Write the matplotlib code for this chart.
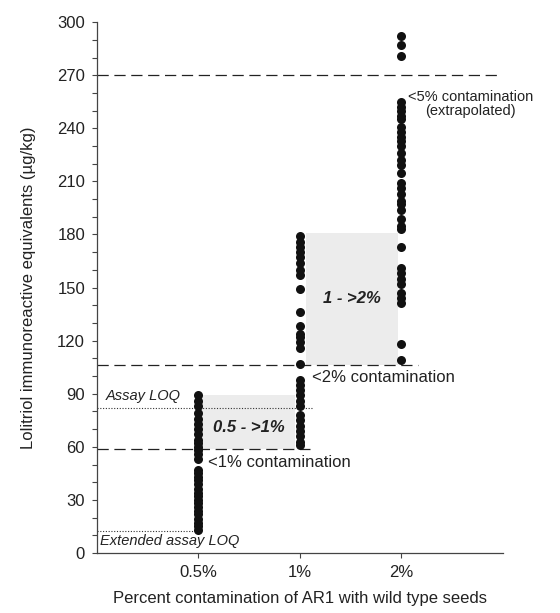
import matplotlib
matplotlib.use("Agg")
import matplotlib.pyplot as plt

plt.rcParams['font.family'] = ['Liberation Sans', 'DejaVu Sans']

categories = ["0.5%", "1%", "2%"]
vals_05 = [89, 86, 83, 79, 76, 73, 70, 67, 64, 62, 60, 58, 56, 53,
           47, 45, 43, 41, 39, 36, 34, 32, 30, 28, 26, 24, 22, 19, 17, 15, 13]
vals_1 = [179, 176, 173, 170, 167, 164, 160, 157, 149, 136, 128, 124, 122, 119, 116, 107,
          98, 95, 92, 89, 86, 83, 78, 75, 72, 69, 66, 63, 61]
vals_2 = [292, 287, 281, 255, 252, 250, 247, 245, 241, 238, 235, 233, 230, 226, 222, 219,
          215, 209, 206, 203, 199, 197, 194, 189, 185, 183, 173, 161, 158, 155, 152, 147,
          144, 141, 118, 109]
series = [vals_05, vals_1, vals_2]

thr_1 = 58.5
thr_2 = 106
thr_5 = 270
assay_loq = 82
ext_loq = 12.5
box1 = (1.03, 1.95, 58.5, 89)
box2 = (2.06, 2.97, 106, 181)

fig = plt.figure(figsize=(5.6, 6.13), dpi=100)
ax = fig.add_axes([0.1732, 0.0979, 0.725, 0.866])

# shaded boxes
ax.fill_between([box1[0], box1[1]], box1[2], box1[3], color='#ececec', lw=0, zorder=0)
ax.fill_between([box2[0], box2[1]], box2[2], box2[3], color='#ececec', lw=0, zorder=0)

dash = (0, (9, 4.5))
ax.plot([0, 3.95], [thr_5, thr_5], color='#222222', lw=0.9, linestyle=dash, zorder=1)
ax.plot([0, 3.16], [thr_2, thr_2], color='#222222', lw=0.9, linestyle=dash, zorder=1)
ax.plot([0, 2.1], [thr_1, thr_1], color='#222222', lw=0.9, linestyle=dash, zorder=1)
ax.plot([0, 2.13], [assay_loq, assay_loq], color='#333333', lw=0.8, linestyle=(0, (1, 1.5)), zorder=1)
ax.plot([0, 1.0], [ext_loq, ext_loq], color='#333333', lw=0.8, linestyle=(0, (1, 1.5)), zorder=1)

for i, v in enumerate(series):
    ax.plot([i + 1] * len(v), v, 'o', color='#111111', ms=6.5, mec='none', zorder=3)

ax.text(0.09, assay_loq + 2.5, "Assay LOQ", style='italic', fontsize=10.5, va='bottom', ha='left', color='#222222')
ax.text(0.03, ext_loq - 1.5, "Extended assay LOQ", style='italic', fontsize=10.5, va='top', ha='left', color='#222222')
ax.text(1.5, 71, "0.5 - >1%", style='italic', weight='bold', fontsize=12, ha='center', va='center', color='#222222')
ax.text(2.51, 144, "1 - >2%", style='italic', weight='bold', fontsize=12, ha='center', va='center', color='#222222')
ax.text(1.09, 51, "<1% contamination", fontsize=12, ha='left', va='center', color='#222222')
ax.text(2.12, 99, "<2% contamination", fontsize=12, ha='left', va='center', color='#222222')
ax.text(3.68, 254, "<5% contamination\n(extrapolated)", fontsize=10.5, ha='center', va='center',
        multialignment='center', linespacing=1.0, color='#222222')

ax.set_xlim(0, 4)
ax.set_ylim(0, 300)
ax.set_xticks([1, 2, 3])
ax.set_xticklabels(categories)
ax.set_yticks(range(0, 301, 30))
ax.set_yticks(range(0, 301, 10), minor=True)
ax.tick_params(axis='both', which='both', direction='out', length=3.6, width=0.8, color='#444444',
               labelsize=12, pad=5, labelcolor='#222222')
for s in ['top', 'right']:
    ax.spines[s].set_visible(False)
for s in ['left', 'bottom']:
    ax.spines[s].set_color('#444444')
    ax.spines[s].set_linewidth(0.9)

ax.set_ylabel("Lolitriol immunoreactive equivalents (µg/kg)", fontsize=12, labelpad=15, color='#222222')
ax.set_xlabel("Percent contamination of AR1 with wild type seeds", fontsize=12, labelpad=8, color='#222222')

fig.savefig("out.png", dpi=100)
